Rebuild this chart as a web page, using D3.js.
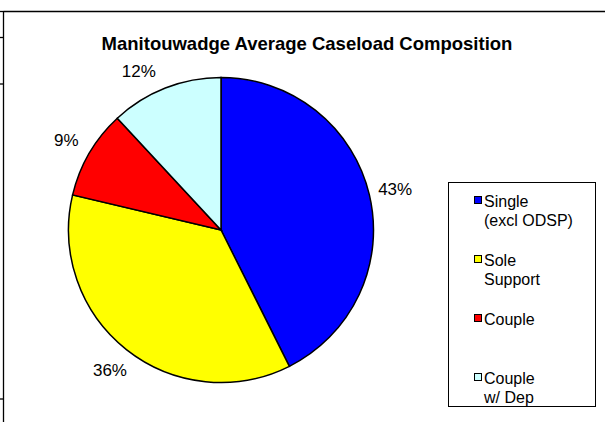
<!DOCTYPE html>
<html><head><meta charset="utf-8">
<script src="https://cdn.jsdelivr.net/npm/d3@7"></script>
<style>body{margin:0;background:#fff}svg{display:block}text{font-family:"Liberation Sans",Arial,sans-serif}</style>
</head><body>
<script>
const categories = ["Single (excl ODSP)", "Sole Support", "Couple", "Couple w/ Dep"];
const legendLines = [["Single", "(excl ODSP)"], ["Sole", "Support"], ["Couple"], ["Couple", "w/ Dep"]];
const values = [42.6, 36.1, 9.4, 11.9];
const colors = ["#0000FF", "#FFFF00", "#FF0000", "#CCFFFF"];
const title = "Manitouwadge Average Caseload Composition";

const W = 605, H = 422;
const svg = d3.select("body").append("svg").attr("width", W).attr("height", H);

// frame
svg.append("line").attr("x1", 3.5).attr("x2", W).attr("y1", 11.5).attr("y2", 11.5).attr("stroke", "#000").attr("stroke-width", 1.3);
svg.append("line").attr("x1", 3.5).attr("x2", 3.5).attr("y1", 11).attr("y2", H).attr("stroke", "#000").attr("stroke-width", 1.3);
[11.5, 37.5, 84, 399].forEach(y => svg.append("line").attr("x1", 0).attr("x2", 3.5).attr("y1", y).attr("y2", y).attr("stroke", "#000").attr("stroke-width", 1.3));

svg.append("text").attr("x", 307).attr("y", 50).attr("text-anchor", "middle")
  .attr("font-size", 18.5).attr("font-weight", "bold").text(title);

const cx = 221, cy = 230, R = 152.5, LR = 179, minLabelY = 71;
const pie = d3.pie().sort(null).value(d => d).startAngle(0).endAngle(2 * Math.PI);
const arcs = pie(values);
const arc = d3.arc().innerRadius(0).outerRadius(R);
const g = svg.append("g").attr("transform", `translate(${cx},${cy})`);
g.selectAll("path").data(arcs).join("path")
  .attr("d", arc).attr("fill", (d, i) => colors[i]).attr("stroke", "#000").attr("stroke-width", 1.5);

function labelPos(d) {
  const a = (d.startAngle + d.endAngle) / 2;
  let s = Math.sin(a), c = Math.cos(a);
  if (cy - LR * c < minLabelY) { // keep labels below the title: slide along the circle
    c = (cy - minLabelY) / LR;
    s = Math.sign(s) * Math.sqrt(1 - c * c);
  }
  return [LR * s, -LR * c];
}
const fmt = d3.format(".0f");
g.selectAll("text.lbl").data(arcs).join("text").attr("class", "lbl")
  .attr("transform", d => `translate(${labelPos(d)})`)
  .attr("text-anchor", "middle").attr("dy", "0.35em").attr("font-size", 17)
  .text(d => fmt(d.data) + "%");

// legend
const lg = svg.append("g");
lg.append("rect").attr("x", 448.5).attr("y", 182.5).attr("width", 147).attr("height", 224)
  .attr("fill", "#fff").attr("stroke", "#000").attr("stroke-width", 1);
const ly = d3.scalePoint().domain(d3.range(categories.length)).range([201, 378]);
categories.forEach((c, i) => {
  const y = ly(i);
  lg.append("rect").attr("x", 474.5).attr("y", y - 4.5).attr("width", 7).attr("height", 7)
    .attr("fill", colors[i]).attr("stroke", "#000").attr("stroke-width", 1);
  const t = lg.append("text").attr("x", 484).attr("y", y).attr("font-size", 16);
  legendLines[i].forEach((ln, j) => t.append("tspan").attr("x", 484).attr("dy", j === 0 ? "0.35em" : 19.5).text(ln));
});
</script>
</body></html>
